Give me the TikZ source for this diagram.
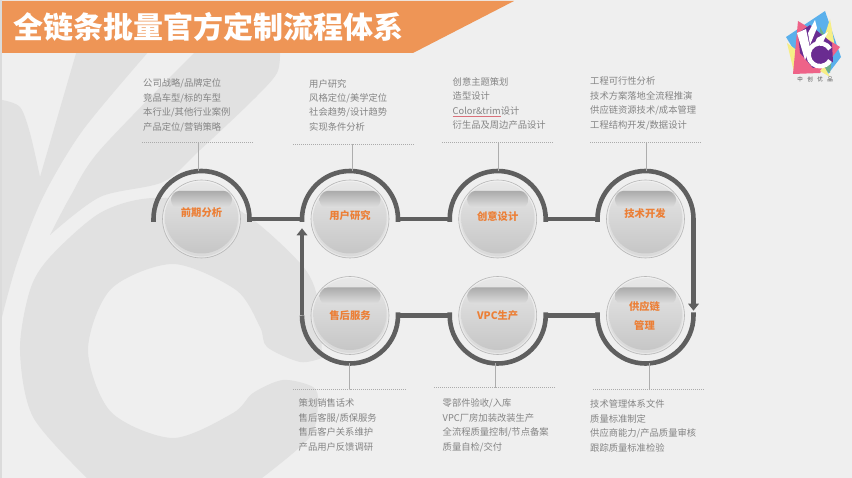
\documentclass[tikz,border=0pt]{standalone}
\usepackage{fontspec}
\setmainfont{Noto Sans CJK SC}
\usetikzlibrary{arrows.meta}
\definecolor{pagegray}{HTML}{EFEFEF}
\definecolor{swirlgray}{HTML}{E1E1E1}
\definecolor{bannerorange}{HTML}{EE9556}
\definecolor{labelorange}{HTML}{EC7F36}
\definecolor{pipegray}{HTML}{5F5F5F}
\definecolor{listgray}{HTML}{848484}
\definecolor{spellred}{HTML}{D9707A}
\definecolor{logoblue}{HTML}{5AB0EC}
\definecolor{logoyellow}{HTML}{F6EE86}
\definecolor{logogreen}{HTML}{6FAF8A}
\definecolor{logopink}{HTML}{EE6388}
\definecolor{logopurple}{HTML}{6A2C91}
\newcommand{\spellmark}[1]{{\color{spellred}\underline{\color{listgray}#1}}}
\begin{document}
\begin{tikzpicture}[x=1pt, y=-1pt, line cap=butt]
      \tikzstyle{swirl} = [fill=swirlgray]
      \tikzstyle{ring} = [circle, inner sep=0pt, outer sep=0pt, minimum size=96pt]
      \tikzstyle{ball} = [circle, inner sep=0pt, minimum size=78pt, draw=black!28, line width=.6pt,
        top color=black!9, bottom color=black!15,
        path picture={
          \shade[top color=black!9, middle color=black!13, bottom color=black!23]
            ([yshift=2pt]path picture bounding box.center) circle (36.5pt);
          \shade[top color=black!33, middle color=black!35, bottom color=black!12, rounded corners=8pt]
            ([shift={(-30.5pt,11pt)}]path picture bounding box.center) rectangle
            ([shift={(30.5pt,28pt)}]path picture bounding box.center);
          \draw[white, opacity=.35, line width=1.2pt]
            (path picture bounding box.center) circle (38pt);
        }]
      \tikzstyle{word} = [font=\fontsize{10.3}{12}\selectfont\bfseries, text=labelorange, inner sep=0pt]
      \tikzstyle{items} = [anchor=west, align=left, inner sep=0pt, text=listgray,
        font=\fontsize{9.3}{14.5}\selectfont]
      \tikzstyle{pipe} = [draw=pipegray, line width=4.6pt]
      \tikzstyle{arrowpipe} = [pipe, -{Triangle[length=7pt, width=10.5pt]}]
      \tikzstyle{dots} = [draw=black!33, line width=.7pt, dash pattern=on 1pt off 1pt]
      \tikzstyle{leader} = [draw=black!32, line width=.8pt]
      \useasboundingbox (0,0) rectangle (852,478);
      \fill[pagegray] (0,0) rectangle (852,478);
      \fill[swirl] (2,100) -- plot[smooth] coordinates {(2,100) (20,107) (30,133) (40,177)}
        -- (77,50) -- (150,50) -- plot[smooth] coordinates {(150,50) (83,130) (43,197) (17,263) (2,317)} -- cycle;
      \fill[swirl] (50,235) -- plot[smooth] coordinates {(50,235) (70,197) (100,150) (197,50)}
        -- (280,50) -- plot[smooth] coordinates {(280,50) (277,73) (253,100) (200,150) (163,182) (100,197) (50,235)} -- cycle;
      \fill[swirl] plot[smooth] coordinates {(322,358) (318,300) (300,263) (233,207) (153,198) (100,213) (50,257) (30,290) (20,350) (33,417) (87,478)}
        -- (262,478) -- plot[smooth] coordinates {(262,478) (310,437) (318,403) (313,387) (283,380) (253,393) (233,413) (173,438) (111,412) (88,350) (111,289) (173,264) (236,290) (260,327) (267,347) (300,362) (322,358)} -- cycle;
      \fill[black!14] (0,0) rectangle (1.5,478);
      \fill[bannerorange] (2,1) -- (514,1) -- (413,53) -- (2,53) -- cycle;
      \node (title) [anchor=west, inner sep=0pt, text=white, font=\fontsize{30}{32}\selectfont\bfseries] at (13,27) {全链条批量官方定制流程体系};
      \fill[logoblue] (786,37) -- (825,11) -- (841,57) -- (828,74) -- (800,60) -- cycle;
      \fill[logoyellow] (787,43) -- (794,72) -- (810,60) -- cycle;
      \fill[logoyellow] (830,19) -- (835,47) -- (820,50) -- cycle;
      \fill[logogreen] (820,27) -- (833,50) -- (830,73) -- (822,68) -- cycle;
      \fill[logopink] (798,21) -- (840,47) -- (820,73) -- (793,74) -- cycle;
      \fill[logoyellow] (820,71) -- (830,77) -- (824,66) -- cycle;
      \fill[logopurple] (798,33) -- (810,25) -- (832,43) -- (833,62) -- (813,68) -- (800,53) -- cycle;
      \fill[white] (797,33) -- (806,29) -- (810,48) -- (805,60) -- cycle;
      \fill[white] (815,20) -- (817,28) -- (810,45) -- (808,33) -- cycle;
      \fill[white] (828,32) -- (823,42) -- (813,47) -- (817,38) -- cycle;
      \draw[white, line width=4.6pt] (830,49) arc[start angle=30, end angle=330, radius=11.5pt];
      \node (brand) [inner sep=0pt, text=black!70, font=\fontsize{5.5}{6}\selectfont] at (815,79.5) {中\hspace{4.5pt}创\hspace{4.5pt}优\hspace{4.5pt}品};

      \node (pre) [ring] at (201.5,219) {};
      \node (user) [ring] at (350,219) {};
      \node (create) [ring] at (497.7,219) {};
      \node (tech) [ring] at (645.5,219) {};
      \node (after) [ring] at (350,315.5) {};
      \node (vpc) [ring] at (497.7,315.5) {};
      \node (supply) [ring] at (645.5,315.5) {};
      \node (preball) [ball] at (pre) {};
      \node (userball) [ball] at (user) {};
      \node (createball) [ball] at (create) {};
      \node (techball) [ball] at (tech) {};
      \node (afterball) [ball] at (after) {};
      \node (vpcball) [ball] at (vpc) {};
      \node (supplyball) [ball] at (supply) {};
      \node (preword) [word] at (201.5,213) {前期分析};
      \node (userword) [word] at (350,216) {用户研究};
      \node (createword) [word] at (497.7,216.5) {创意设计};
      \node (techword) [word] at (645,213.5) {技术开发};
      \node (afterword) [word] at (350,315.5) {售后服务};
      \node (vpcword) [word] at (497.7,315.5) {VPC生产};
      \node (supplyword) [word] at (644.5,306.5) {供应链};
      \node (supplyword2) [word] at (644.5,326) {管理};

      \draw[pipe] ([yshift=-3pt]pre.west) -- (pre.west) arc[start angle=180, end angle=0, radius=48pt] -- ([yshift=-3pt]pre.east);
      \draw[pipe] ([yshift=-3pt]user.west) -- (user.west) arc[start angle=180, end angle=0, radius=48pt] -- ([yshift=-3pt]user.east);
      \draw[pipe] ([yshift=-3pt]create.west) -- (create.west) arc[start angle=180, end angle=0, radius=48pt] -- ([yshift=-3pt]create.east);
      \draw[pipe] ([yshift=-3pt]tech.west) -- (tech.west) arc[start angle=180, end angle=0, radius=48pt];
      \draw[pipe] (pre.east) -- (user.west);
      \draw[pipe] (user.east) -- (create.west);
      \draw[pipe] (create.east) -- (tech.west);
      \draw[arrowpipe] (tech.east) -- ([yshift=4.8pt]supply.east);
      \draw[pipe] ([yshift=3pt]supply.east) -- (supply.east) arc[start angle=0, end angle=-180, radius=48pt] -- ([yshift=3pt]supply.west);
      \draw[pipe] ([yshift=3pt]vpc.east) -- (vpc.east) arc[start angle=0, end angle=-180, radius=48pt] -- ([yshift=3pt]vpc.west);
      \draw[pipe] ([yshift=3pt]after.east) -- (after.east) arc[start angle=0, end angle=-180, radius=48pt];
      \draw[pipe] (supply.west) -- (vpc.east);
      \draw[pipe] (vpc.west) -- (after.east);
      \draw[arrowpipe] (after.west) -- ([yshift=-9.3pt]user.west);

      \node (prelist) [items] at (143,105.2) {公司战略/品牌定位\\竞品车型/标的车型\\本行业/其他行业案例\\产品定位/营销策略};
      \node (userlist) [items] at (309,105.2) {用户研究\\风格定位/美学定位\\社会趋势/设计趋势\\实现条件分析};
      \node (createlist) [items] at (452.5,103.4) {创意主题策划\\造型设计\\\spellmark{Color\&trim}设计\\衍生品及周边产品设计};
      \node (techlist) [items] at (590,103.4) {工程可行性分析\\技术方案落地全流程推演\\供应链资源技术/成本管理\\工程结构开发/数据设计};
      \node (afterlist) [items] at (298.5,425.2) {策划销售话术\\售后客服/质保服务\\售后客户关系维护\\产品用户反馈调研};
      \node (vpclist) [items] at (442.5,425.2) {零部件验收/入库\\VPC厂房加装改装生产\\全流程质量控制/节点备案\\质量自检/交付};
      \node (supplylist) [items] at (590,425.9) {技术管理体系文件\\质量标准制定\\供应商能力/产品质量审核\\跟踪质量标准检验};

      \coordinate (prerule) at (198.3,142.7);
      \coordinate (userrule) at (352,144);
      \coordinate (createrule) at (498.3,142.7);
      \coordinate (techrule) at (646,142.7);
      \coordinate (afterrule) at (349.7,389);
      \coordinate (vpcrule) at (495,387.7);
      \coordinate (supplyrule) at (649,389);
      \draw[dots] (142,142.7) -- (prerule) -- (254,142.7);
      \draw[dots] (293,144) -- (userrule) -- (414,144);
      \draw[dots] (442,142.7) -- (createrule) -- (554,142.7);
      \draw[dots] (590,142.7) -- (techrule) -- (702,142.7);
      \draw[dots] (293,389) -- (afterrule) -- (406,389);
      \draw[dots] (434,387.7) -- (vpcrule) -- (555,387.7);
      \draw[dots] (593,389) -- (supplyrule) -- (705,389);
      \draw[leader] (prerule) -- (prerule |- pre.north);
      \draw[leader] (userrule) -- (userrule |- user.north);
      \draw[leader] (createrule) -- (createrule |- create.north);
      \draw[leader] (techrule) -- (techrule |- tech.north);
      \draw[leader] (afterrule) -- (afterrule |- after.south);
      \draw[leader] (vpcrule) -- (vpcrule |- vpc.south);
      \draw[leader] (supplyrule) -- (supplyrule |- supply.south);
    \end{tikzpicture}
\end{document}
